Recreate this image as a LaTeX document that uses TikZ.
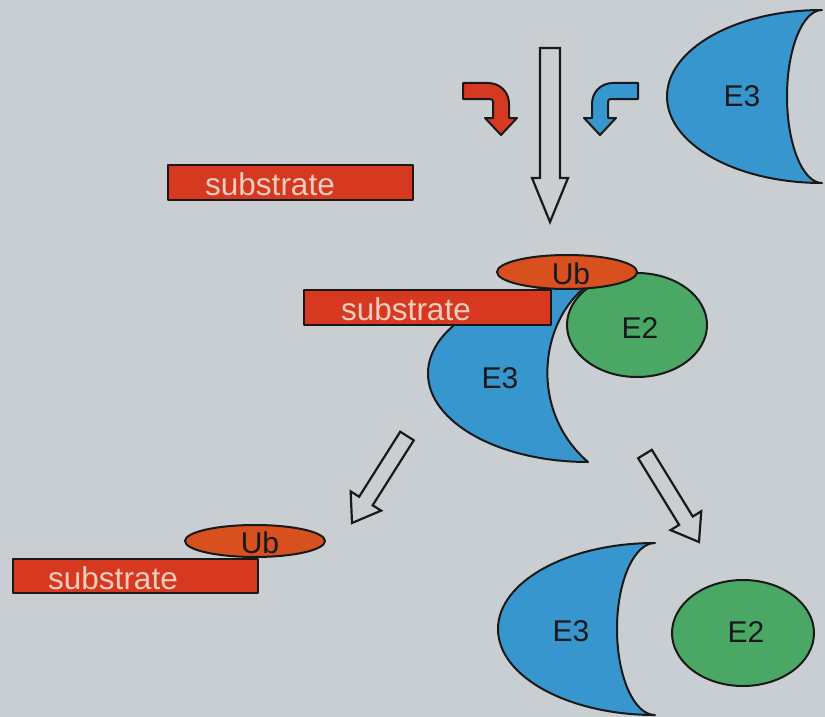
\documentclass[tikz,border=0pt]{standalone}
\usepackage{fontspec}
\setmainfont{Liberation Sans}
\usetikzlibrary{calc}
\definecolor{bg}{RGB}{201,206,211}
\definecolor{subred}{RGB}{214,56,32}
\definecolor{ubred}{RGB}{215,80,30}
\definecolor{e3blue}{RGB}{55,150,205}
\definecolor{e2green}{RGB}{75,168,100}
\definecolor{subtext}{RGB}{240,205,190}
\definecolor{txtdark}{RGB}{25,25,30}
\tikzset{
  outl/.style={draw=black!90, line width=2pt, line join=round},
  subbox/.style={outl, fill=subred},
  subtxt/.style={text=subtext, font=\fontsize{31.5}{32}\selectfont, anchor=base, inner sep=0pt},
  lbl/.style={text=txtdark, font=\fontsize{30}{30}\selectfont, inner sep=0pt},
  ubshape/.style={outl, fill=ubred},
  e3shape/.style={outl, fill=e3blue},
  e2shape/.style={outl, fill=e2green},
  hollow/.style={draw=black!90, line width=2.2pt, line join=miter},
}
\newcommand\hollowarrow[5]{%
  \coordinate (ha-s) at ($(#2)!#5!(#1)$);
  \draw[hollow] ($(#1)!#3!90:(#2)$) -- ($(ha-s)!#3!90:(#2)$) -- ($(ha-s)!#4!90:(#2)$) -- (#2)
    -- ($(ha-s)!#4!-90:(#2)$) -- ($(ha-s)!#3!-90:(#2)$) -- ($(#1)!#3!-90:(#2)$) -- cycle;}
\begin{document}
\begin{tikzpicture}[x=1pt,y=-1pt]
\useasboundingbox (0,0) rectangle (825,717);
\fill[bg] (0,0) rectangle (825,717);

% ---------- top row ----------
\draw[subbox] (168,165) rectangle (413,200);
\node[subtxt] (s1) at (270,195) {substrate};

% top right E3
\draw[e3shape] (822,10) arc[start angle=90, end angle=270, x radius=155pt, y radius=86.5pt]
  arc[start angle=270, end angle=90, x radius=35pt, y radius=86.5pt] -- cycle;
\node[lbl] (e3a) at (742,96) {E3};

% big hollow arrow
\coordinate (a1t) at (550,48);
\coordinate (a1h) at (550,222);
\hollowarrow{a1t}{a1h}{10pt}{18pt}{44pt}

% red bent arrow
\draw[outl, fill=subred] (463,83) -- (488,83) .. controls (500,83) and (509,92) .. (509,104)
  -- (509,118) -- (517,118) -- (501,135) -- (485,118) -- (493,118) -- (493,102)
  .. controls (493,100) and (492,99) .. (490,99) -- (463,99) -- cycle;
% blue bent arrow
\draw[outl, fill=e3blue] (638,83) -- (613,83) .. controls (601,83) and (592,92) .. (592,104)
  -- (592,118) -- (584,118) -- (600,135) -- (616,118) -- (608,118) -- (608,102)
  .. controls (608,100) and (609,99) .. (611,99) -- (638,99) -- cycle;

% ---------- middle complex ----------
\draw[e3shape] (588,285) arc[start angle=90, end angle=270, x radius=160pt, y radius=88.5pt]
  .. controls (528,410) and (540,320) .. (588,285) -- cycle;
\draw[e2shape] (637,325) ellipse [x radius=70pt, y radius=52pt];
\draw[subbox] (304,290) rectangle (551,325);
\node[subtxt] (s2) at (406,320) {substrate};
\draw[ubshape] (567,272) ellipse [x radius=70pt, y radius=17pt];
\node[lbl] (ub1) at (571,274) {Ub};
\node[lbl] (e2a) at (640,328) {E2};
\node[lbl] (e3b) at (500,378) {E3};

% diagonal arrows
\coordinate (a2t) at (407,436);
\coordinate (a2h) at (352,523);
\hollowarrow{a2t}{a2h}{8pt}{18pt}{26pt}
\coordinate (a3t) at (645,454);
\coordinate (a3h) at (699,542);
\hollowarrow{a3t}{a3h}{8pt}{18pt}{25pt}

% ---------- bottom left ----------
\draw[subbox] (13,559) rectangle (258,593);
\node[subtxt] (s3) at (113,589) {substrate};
\draw[ubshape] (255,541) ellipse [x radius=70pt, y radius=16pt];
\node[lbl] (ub2) at (260,543) {Ub};

% ---------- bottom right ----------
\draw[e3shape] (655,543) arc[start angle=90, end angle=270, x radius=157pt, y radius=86pt]
  arc[start angle=270, end angle=90, x radius=38pt, y radius=86pt] -- cycle;
\node[lbl] (e3c) at (571,631) {E3};
\draw[e2shape] (743,633) ellipse [x radius=71pt, y radius=53pt];
\node[lbl] (e2b) at (746,632) {E2};
\end{tikzpicture}
\end{document}
